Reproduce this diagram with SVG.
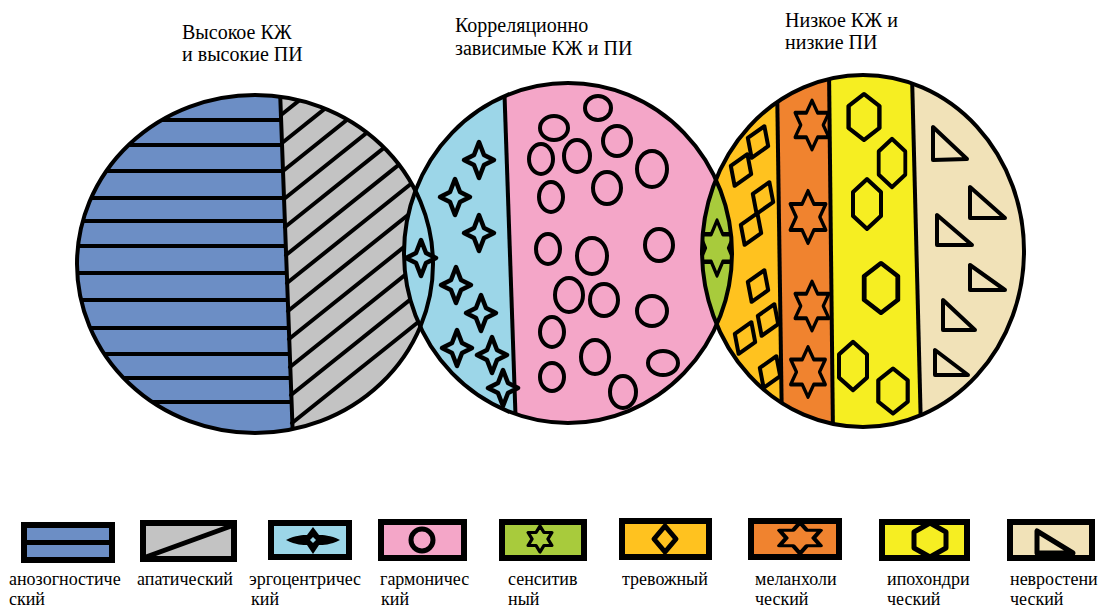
<svg xmlns="http://www.w3.org/2000/svg" width="1099" height="610" viewBox="0 0 1099 610">
<defs>
<clipPath id="k1"><ellipse cx="255" cy="264" rx="178" ry="169"/></clipPath>
<clipPath id="k2"><ellipse cx="568" cy="253" rx="164" ry="170"/></clipPath>
<clipPath id="k3"><ellipse cx="863" cy="251" rx="161" ry="176"/></clipPath>
<path id="star4" d="M0,-18 L5,-5 L15,0 L5,5 L0,18 L-5,5 L-15,0 L-5,-5 Z"/>
<path id="hexg" d="M0,-25 L7.2,-12.5 L21.65,-12.5 L14.4,0 L21.65,12.5 L7.2,12.5 L0,25 L-7.2,12.5 L-21.65,12.5 L-14.4,0 L-21.65,-12.5 L-7.2,-12.5 Z"/>
<path id="dia" d="M0,-17 L11,0 L0,17 L-11,0 Z"/>
<path id="hexa" d="M0,-23 L14,-11 L14,11 L0,23 L-14,11 L-14,-11 Z"/>
</defs>
<rect width="1099" height="610" fill="#fff"/>

<g id="titles">
<text x="182" y="39" font-family="Liberation Serif, Times New Roman, DejaVu Serif, serif" font-size="20">Высокое КЖ</text>
<text x="182" y="61" font-family="Liberation Serif, Times New Roman, DejaVu Serif, serif" font-size="20">и высокие ПИ</text>
<text x="455" y="32" font-family="Liberation Serif, Times New Roman, DejaVu Serif, serif" font-size="20">Корреляционно</text>
<text x="455" y="55" font-family="Liberation Serif, Times New Roman, DejaVu Serif, serif" font-size="20">зависимые КЖ и ПИ</text>
<text x="785" y="27" font-family="Liberation Serif, Times New Roman, DejaVu Serif, serif" font-size="20">Низкое КЖ и</text>
<text x="785" y="49" font-family="Liberation Serif, Times New Roman, DejaVu Serif, serif" font-size="20">низкие ПИ</text>
</g>

<g id="circle-high">
<g clip-path="url(#k1)">
<rect x="70" y="90" width="370" height="350" fill="#C3C3C3"/>
<path d="M60,80 L280,80 L280,95 Q286,260 293,440 L60,440 Z" fill="#6C8EC5"/>
<g stroke="#000" stroke-width="4" stroke-linecap="round" fill="none">
<line x1="60" y1="120" x2="281" y2="120"/>
<line x1="60" y1="145" x2="282" y2="145"/>
<line x1="60" y1="171" x2="283" y2="171"/>
<line x1="60" y1="198" x2="284" y2="198"/>
<line x1="60" y1="221" x2="284" y2="221"/>
<line x1="60" y1="246" x2="285" y2="246"/>
<line x1="60" y1="273" x2="286" y2="273"/>
<line x1="60" y1="300" x2="287" y2="300"/>
<line x1="60" y1="328" x2="288" y2="328"/>
<line x1="60" y1="354" x2="289" y2="354"/>
<line x1="60" y1="378" x2="290" y2="378"/>
<line x1="60" y1="402" x2="291" y2="402"/>
<line x1="281" y1="115" x2="481" y2="-45"/>
<line x1="282" y1="143" x2="482" y2="-17"/>
<line x1="283" y1="171" x2="483" y2="11"/>
<line x1="284" y1="199" x2="484" y2="39"/>
<line x1="285" y1="227" x2="485" y2="67"/>
<line x1="286" y1="255" x2="486" y2="95"/>
<line x1="287" y1="283" x2="487" y2="123"/>
<line x1="288" y1="311" x2="488" y2="151"/>
<line x1="289" y1="339" x2="489" y2="179"/>
<line x1="290" y1="367" x2="490" y2="207"/>
<line x1="291" y1="395" x2="491" y2="235"/>
<line x1="292" y1="423" x2="492" y2="263"/>
<path d="M280,90 Q286,260 293,440"/>
</g>
</g>
</g>

<g id="circle-correlated">
<g clip-path="url(#k2)">
<rect x="400" y="80" width="340" height="350" fill="#F4A6C8"/>
<path d="M390,70 L504,70 L504,92 L516,420 L516,440 L390,440 Z" fill="#9CD6E8"/>
<line x1="504" y1="80" x2="516" y2="430" stroke="#000" stroke-width="4"/>
</g>
<g fill="#9CD6E8" stroke="#000" stroke-width="4.5" stroke-linejoin="round">
<use href="#star4" x="479" y="160"/>
<use href="#star4" x="455" y="197"/>
<use href="#star4" x="479" y="233"/>
<use href="#star4" x="421" y="258"/>
<use href="#star4" x="456" y="285"/>
<use href="#star4" x="481" y="313"/>
<use href="#star4" x="457" y="348"/>
<use href="#star4" x="492" y="355"/>
<use href="#star4" x="503" y="388"/>
</g>
<g fill="#F4A6C8" stroke="#000" stroke-width="4">
<ellipse cx="598" cy="108" rx="13" ry="12"/>
<ellipse cx="554" cy="128" rx="14" ry="12"/>
<ellipse cx="617" cy="141" rx="14" ry="15"/>
<ellipse cx="541" cy="159" rx="12" ry="15"/>
<ellipse cx="577" cy="156" rx="13" ry="16"/>
<ellipse cx="652" cy="169" rx="15" ry="18"/>
<ellipse cx="607" cy="188" rx="14" ry="16"/>
<ellipse cx="551" cy="197" rx="12" ry="15"/>
<ellipse cx="548" cy="249" rx="12" ry="15"/>
<ellipse cx="592" cy="256" rx="15" ry="18"/>
<ellipse cx="659" cy="245" rx="14" ry="16"/>
<ellipse cx="569" cy="295" rx="14" ry="17"/>
<ellipse cx="604" cy="300" rx="14" ry="16"/>
<ellipse cx="652" cy="311" rx="15" ry="15"/>
<ellipse cx="552" cy="332" rx="12" ry="15"/>
<ellipse cx="595" cy="357" rx="14" ry="17"/>
<ellipse cx="663" cy="363" rx="15" ry="12"/>
<ellipse cx="552" cy="377" rx="12" ry="14"/>
<ellipse cx="623" cy="392" rx="13" ry="16"/>
</g>
</g>

<g id="circle-low">
<g clip-path="url(#k3)">
<rect x="690" y="60" width="350" height="380" fill="#F1E2B8"/>
<path d="M690,60 L912,60 L912,85 L921,415 L921,440 L690,440 Z" fill="#F6EE22"/>
<path d="M690,60 L829,60 L829,78 L833,425 L833,440 L690,440 Z" fill="#F0832F"/>
<path d="M690,60 L777,60 L777,100 L782,405 L782,440 L690,440 Z" fill="#FFC21F"/>
<ellipse cx="568" cy="253" rx="164" ry="170" fill="#A8CB3C"/>
<g stroke="#000" stroke-width="4">
<line x1="777" y1="80" x2="782" y2="430"/>
<line x1="829" y1="70" x2="833" y2="435"/>
<line x1="912" y1="75" x2="921" y2="430"/>
</g>
<g clip-path="url(#k2)">
<use href="#hexg" fill="#A8CB3C" stroke="#000" stroke-width="4" stroke-linejoin="round" transform="translate(717,248) scale(0.8,1.1)"/>
</g>
</g>
<g fill="#FFC21F" stroke="#000" stroke-width="4" stroke-linejoin="round">
<use href="#dia" transform="translate(758,142) rotate(22)"/>
<use href="#dia" transform="translate(741,170) rotate(22)"/>
<use href="#dia" transform="translate(763,198) rotate(22)"/>
<use href="#dia" transform="translate(751,229) rotate(22)"/>
<use href="#dia" transform="translate(758,286) rotate(22)"/>
<use href="#dia" transform="translate(768,320) rotate(22)"/>
<use href="#dia" transform="translate(745,338) rotate(22)"/>
<use href="#dia" transform="translate(770,372) rotate(22)"/>
</g>
<g fill="#F0832F" stroke="#000" stroke-width="4" stroke-linejoin="round">
<use href="#hexg" transform="translate(812,125) scale(0.78,0.98)"/>
<use href="#hexg" transform="translate(808,217) scale(0.82,1.04)"/>
<use href="#hexg" transform="translate(812,306) scale(0.78,0.98)"/>
<use href="#hexg" transform="translate(808,372) scale(0.8,1)"/>
</g>
<g fill="#F6EE22" stroke="#000" stroke-width="4" stroke-linejoin="round">
<use href="#hexa" transform="translate(864,117) scale(1.1,1)"/>
<use href="#hexa" transform="translate(892,163) scale(0.95,1.05)"/>
<use href="#hexa" transform="translate(867,204) scale(1,1.08)"/>
<use href="#hexa" transform="translate(881,288) scale(1.2,1.08)"/>
<use href="#hexa" transform="translate(853,366) scale(1,1.05)"/>
<use href="#hexa" transform="translate(893,391) scale(1.05,0.98)"/>
</g>
<g fill="#F1E2B8" stroke="#000" stroke-width="4" stroke-linejoin="round">
<path d="M933,127 L933,160 L967,159 Z"/>
<path d="M970,187 L970,218 L1005,218 Z"/>
<path d="M937,215 L937,245 L972,245 Z"/>
<path d="M970,265 L970,290 L1005,290 Z"/>
<path d="M943,300 L943,330 L975,330 Z"/>
<path d="M935,350 L935,375 L968,375 Z"/>
</g>
</g>

<g id="outlines" fill="none" stroke="#000" stroke-width="4">
<ellipse cx="255" cy="264" rx="178" ry="169"/>
<ellipse cx="568" cy="253" rx="164" ry="170"/>
<ellipse cx="863" cy="251" rx="161" ry="176"/>
</g>

<g id="legend">
<g id="legend-anosognostic">
<rect x="24" y="525" width="88" height="35" fill="#6C8EC5" stroke="#000" stroke-width="6"/>
<line x1="24" y1="542.5" x2="112" y2="542.5" stroke="#000" stroke-width="5"/>
<text x="9" y="585" font-family="Liberation Serif, Times New Roman, DejaVu Serif, serif" font-size="18">анозогностиче</text>
<text x="9" y="605" font-family="Liberation Serif, Times New Roman, DejaVu Serif, serif" font-size="18">ский</text>
</g>
<g id="legend-apathetic">
<rect x="143" y="523" width="91" height="36" fill="#C3C3C3" stroke="#000" stroke-width="6"/>
<line x1="146" y1="557" x2="234" y2="525" stroke="#000" stroke-width="5"/>
<text x="137" y="585" font-family="Liberation Serif, Times New Roman, DejaVu Serif, serif" font-size="18">апатический</text>
</g>
<g id="legend-ergocentric">
<rect x="271" y="523" width="78" height="34" fill="#9CD6E8" stroke="#000" stroke-width="6"/>
<path d="M286,540 C296,535 303,535 307,535 L313,527 L319,535 C323,535 330,535 340,540 C330,545 323,545 319,545 L313,554 L307,545 C303,545 296,545 286,540 Z" fill="#000"/>
<path d="M313,537 L316,540 L313,543 L310,540 Z" fill="#9CD6E8"/>
<text x="249" y="585" font-family="Liberation Serif, Times New Roman, DejaVu Serif, serif" font-size="18">эргоцентричес</text>
<text x="251" y="605" font-family="Liberation Serif, Times New Roman, DejaVu Serif, serif" font-size="18">кий</text>
</g>
<g id="legend-harmonic">
<rect x="381" y="522" width="83" height="36" fill="#F4A6C8" stroke="#000" stroke-width="6"/>
<circle cx="422" cy="540" r="11" fill="#F4A6C8" stroke="#000" stroke-width="5"/>
<text x="380" y="585" font-family="Liberation Serif, Times New Roman, DejaVu Serif, serif" font-size="18">гармоничес</text>
<text x="381" y="605" font-family="Liberation Serif, Times New Roman, DejaVu Serif, serif" font-size="18">кий</text>
</g>
<g id="legend-sensitive">
<rect x="502" y="522" width="82" height="36" fill="#A8CB3C" stroke="#000" stroke-width="6"/>
<use href="#hexg" fill="#A8CB3C" stroke="#000" stroke-width="6" stroke-linejoin="round" transform="translate(540,539) scale(0.55,0.52)"/>
<text x="508" y="585" font-family="Liberation Serif, Times New Roman, DejaVu Serif, serif" font-size="18">сенситив</text>
<text x="508" y="605" font-family="Liberation Serif, Times New Roman, DejaVu Serif, serif" font-size="18">ный</text>
</g>
<g id="legend-anxious">
<rect x="622" y="521" width="87" height="36" fill="#FFC21F" stroke="#000" stroke-width="6"/>
<path d="M665,526 L676,539 L665,552 L654,539 Z" fill="#FFC21F" stroke="#000" stroke-width="5" stroke-linejoin="round"/>
<text x="622" y="585" font-family="Liberation Serif, Times New Roman, DejaVu Serif, serif" font-size="18">тревожный</text>
</g>
<g id="legend-melancholic">
<rect x="751" y="521" width="88" height="36" fill="#F0832F" stroke="#000" stroke-width="6"/>
<use href="#hexg" fill="#F0832F" stroke="#000" stroke-width="5" stroke-linejoin="round" transform="translate(800,538) scale(0.95,0.62)"/>
<text x="755" y="585" font-family="Liberation Serif, Times New Roman, DejaVu Serif, serif" font-size="18">меланхоли</text>
<text x="755" y="605" font-family="Liberation Serif, Times New Roman, DejaVu Serif, serif" font-size="18">ческий</text>
</g>
<g id="legend-hypochondriac">
<rect x="882" y="522" width="85" height="36" fill="#F6EE22" stroke="#000" stroke-width="6"/>
<path d="M930,523 L946,532 L946,548 L930,557 L914,548 L914,532 Z" fill="#F6EE22" stroke="#000" stroke-width="5" stroke-linejoin="round"/>
<text x="887" y="585" font-family="Liberation Serif, Times New Roman, DejaVu Serif, serif" font-size="18">ипохондри</text>
<text x="887" y="605" font-family="Liberation Serif, Times New Roman, DejaVu Serif, serif" font-size="18">ческий</text>
</g>
<g id="legend-neurasthenic">
<rect x="1010" y="522" width="82" height="36" fill="#F1E2B8" stroke="#000" stroke-width="6"/>
<path d="M1037,531 L1037,553 L1073,553 Z" fill="#F1E2B8" stroke="#000" stroke-width="5" stroke-linejoin="round"/>
<text x="1010" y="585" font-family="Liberation Serif, Times New Roman, DejaVu Serif, serif" font-size="18">невростени</text>
<text x="1010" y="605" font-family="Liberation Serif, Times New Roman, DejaVu Serif, serif" font-size="18">ческий</text>
</g>
</g>
</svg>
